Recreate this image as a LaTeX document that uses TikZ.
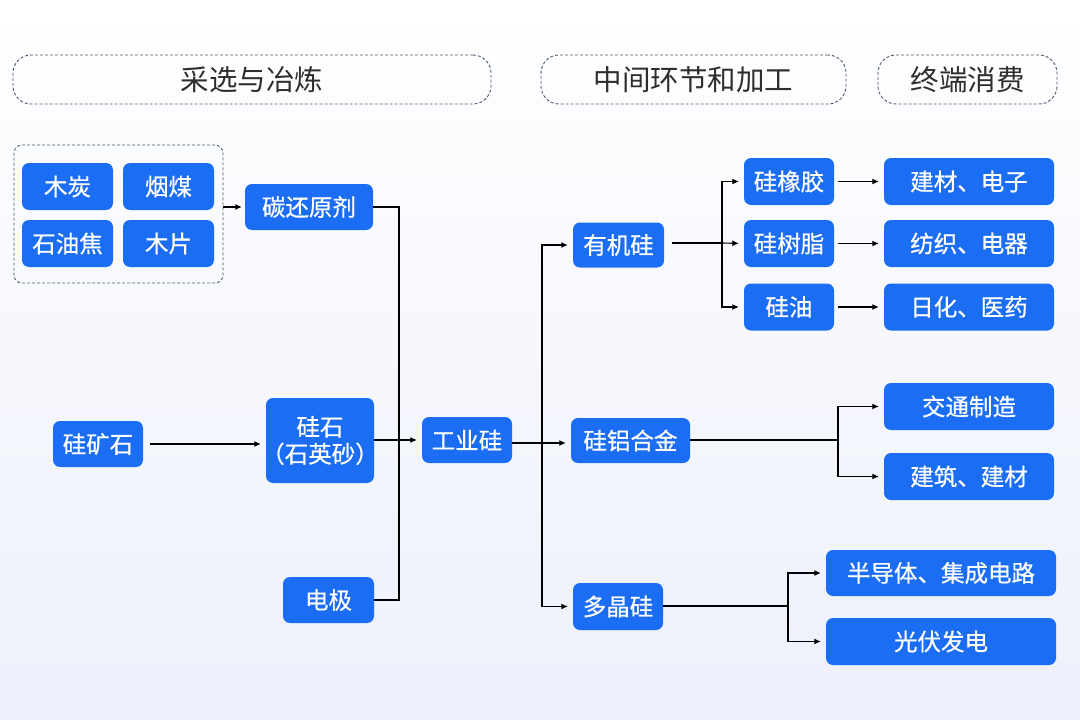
\documentclass[tikz,border=0pt]{standalone}
\usepackage{fontspec}
\setmainfont{Noto Sans CJK SC}
\newfontfamily\boxfont[FakeBold=0.6]{Noto Sans CJK SC}
\usetikzlibrary{arrows.meta}
\definecolor{boxblue}{HTML}{1B6EF3}
\definecolor{bgbot}{HTML}{EDF0FB}
\definecolor{hdtext}{HTML}{2E2E2E}
\definecolor{dashc}{HTML}{4E5870}
\tikzset{
  bbox/.style={fill=boxblue, rounded corners=7pt, text=white, font=\boxfont\fontsize{23.5}{27}\selectfont, inner sep=0pt, align=center},
  hdr/.style={draw=dashc, dash pattern=on 3pt off 2pt, line width=0.9pt, rounded corners=18pt, text=hdtext, font=\fontsize{28.5}{31}\selectfont, inner sep=0pt},
  grp/.style={draw=dashc, dash pattern=on 3pt off 2pt, line width=0.8pt, rounded corners=8pt, inner sep=0pt},
  ln/.style={line width=1.1pt, draw=black},
  arr/.style={ln, -{Latex[length=6.5pt,width=6pt]}, shorten >=5pt},
}
\begin{document}
\begin{tikzpicture}[x=1pt,y=-1pt]
\shade[top color=white, bottom color=bgbot] (0,0) rectangle (1080,720);
\useasboundingbox (0,0) rectangle (1080,720);

% headers
\node[hdr, minimum width=478pt, minimum height=49pt] (h1) at (252,79.5) {采选与冶炼};
\node[hdr, minimum width=305pt, minimum height=49pt] (h2) at (693.5,79.5) {中间环节和加工};
\node[hdr, minimum width=179pt, minimum height=49pt] (h3) at (967.5,79.5) {终端消费};

% raw material group
\node[grp, minimum width=209pt, minimum height=138pt] (grp) at (118.5,214) {};
\node[bbox, minimum width=91pt, minimum height=47pt] (mt) at (67.5,186.5) {木炭};
\node[bbox, minimum width=91pt, minimum height=47pt] (ym) at (168.5,186.5) {烟煤};
\node[bbox, minimum width=91pt, minimum height=47pt] (syj) at (67.5,243.5) {石油焦};
\node[bbox, minimum width=91pt, minimum height=47pt] (mp) at (168.5,243.5) {木片};

\node[bbox, minimum width=128pt, minimum height=46pt] (thy) at (309,207) {碳还原剂};
\node[bbox, minimum width=90pt, minimum height=46pt] (gks) at (98,444) {硅矿石};
\node[bbox, minimum width=108pt, minimum height=85pt] (gs) at (320,440.5) {硅石\\\makebox[0.55em][r]{（}石英砂\makebox[0.55em][l]{）}};
\node[bbox, minimum width=91pt, minimum height=46pt] (dj) at (328.5,600) {电极};
\node[bbox, minimum width=90pt, minimum height=46pt] (gyg) at (467,440) {工业硅};

\node[bbox, minimum width=91pt, minimum height=45pt] (yjg) at (618.5,245) {有机硅};
\node[bbox, minimum width=119pt, minimum height=45pt] (glhj) at (630.5,440.5) {硅铝合金};
\node[bbox, minimum width=90pt, minimum height=47pt] (djg) at (618,606.5) {多晶硅};

\node[bbox, minimum width=90pt, minimum height=47pt] (gxj) at (789,181.5) {硅橡胶};
\node[bbox, minimum width=90pt, minimum height=47pt] (gsz) at (789,243.5) {硅树脂};
\node[bbox, minimum width=90pt, minimum height=47pt] (gy) at (789,307) {硅油};

\node[bbox, minimum width=170pt, minimum height=47pt] (e1) at (969,181.5) {建材、电子};
\node[bbox, minimum width=170pt, minimum height=47pt] (e2) at (969,243.5) {纺织、电器};
\node[bbox, minimum width=170pt, minimum height=47pt] (e3) at (969,307) {日化、医药};
\node[bbox, minimum width=170pt, minimum height=47pt] (e4) at (969,406.5) {交通制造};
\node[bbox, minimum width=170pt, minimum height=47pt] (e5) at (969,476.5) {建筑、建材};
\node[bbox, minimum width=230pt, minimum height=46pt] (e6) at (941,573) {半导体、集成电路};
\node[bbox, minimum width=230pt, minimum height=47pt] (e7) at (941,641.5) {光伏发电};

% junction coordinates
\coordinate (j1) at (399,441);
\coordinate (j2) at (542,443);
\coordinate (j3) at (722,243);
\coordinate (j4) at (838,440);
\coordinate (j5) at (788,606);

% connectors
\draw[arr, shorten >=3pt] (grp.east |- thy.west) -- (thy.west);
\draw[ln] (thy.east) -| (j1);
\draw[ln] (dj.east) -| (j1);
\draw[arr, shorten <=7pt] (gks.east) -- (gs.west |- gks.east);
\draw[arr] (gs.east |- gyg.west) -- (gyg.west);

\draw[ln] (gyg.east |- j2) -- (j2);
\draw[arr] (j2) |- (yjg.west);
\draw[arr] (j2) |- (glhj.west |- j2);
\draw[arr] (j2) |- (djg.west);

\draw[ln, shorten <=8pt] (yjg.east |- j3) -- (j3);
\draw[arr] (j3) |- (gxj.west);
\draw[arr] (j3) -- (gsz.west);
\draw[arr] (j3) |- (gy.west);
\draw[arr, shorten <=4pt] (gxj.east) -- (e1.west);
\draw[arr, shorten <=4pt] (gsz.east) -- (e2.west);
\draw[arr, shorten <=4pt] (gy.east) -- (e3.west);

\draw[ln] (glhj.east |- j4) -- (j4);
\draw[arr] (j4) |- (e4.west);
\draw[arr] (j4) |- (e5.west);

\draw[ln] (djg.east |- j5) -- (j5);
\draw[arr] (j5) |- (e6.west);
\draw[arr] (j5) |- (e7.west);
\end{tikzpicture}
\end{document}
